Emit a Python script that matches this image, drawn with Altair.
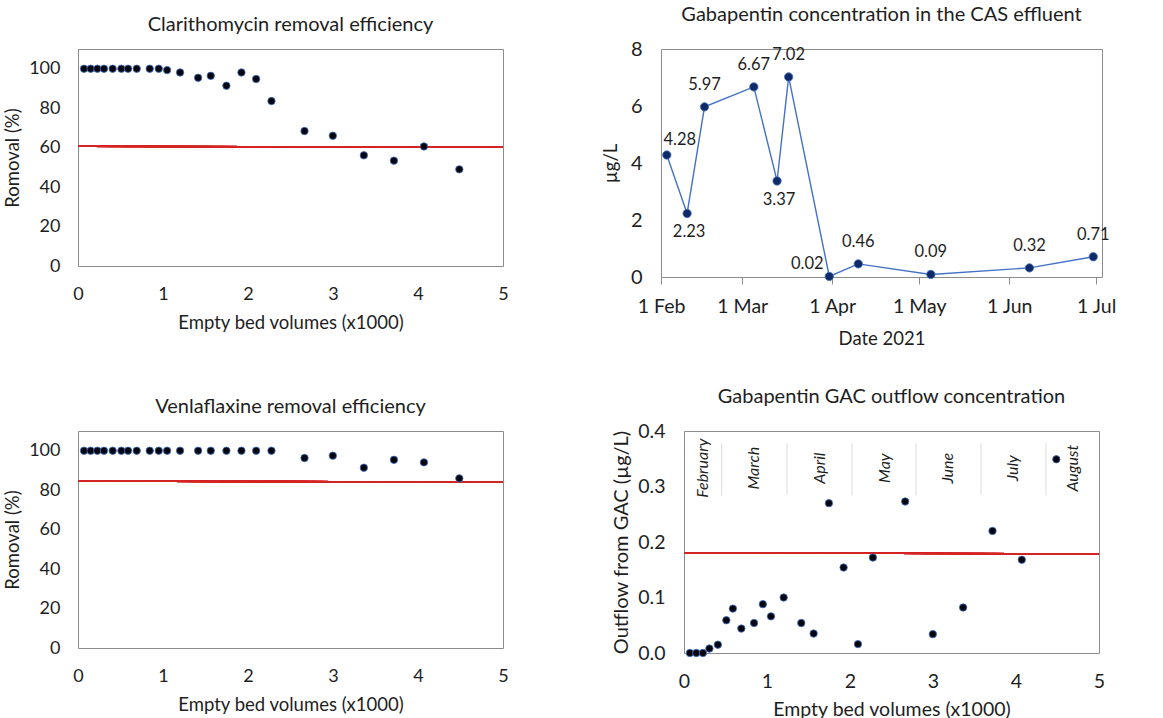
import altair as alt
import pandas as pd

# ---------------- data ----------------
ebv = [0.071, 0.149, 0.228, 0.306, 0.408, 0.510, 0.589, 0.691, 0.844, 0.950, 1.048, 1.201,
       1.413, 1.562, 1.746, 1.923, 2.096, 2.276, 2.665, 2.998, 3.363, 3.717, 4.070, 4.486]
clarithromycin = [100, 100, 100, 100, 100, 100, 100, 100, 100, 100, 99.3, 98.1,
                  95.4, 96.4, 91.4, 98.1, 94.8, 83.6, 68.4, 66.0, 56.1, 53.4, 60.6, 49.0]
venlafaxine = [100, 100, 100, 100, 100, 100, 100, 100, 100, 100, 100, 100,
               100, 100, 100, 100, 100, 100, 96.3, 97.5, 91.4, 95.4, 94.1, 86.0]
gac_outflow = [0.0, 0.0, 0.0, 0.008, 0.015, 0.059, 0.080, 0.044, 0.054, 0.088, 0.066, 0.100,
               0.054, 0.035, 0.270, 0.154, 0.016, 0.172, 0.273, 0.034, 0.082, 0.220, 0.168, 0.349]

cas_dates = ["2021-02-03", "2021-02-10", "2021-02-16", "2021-03-05", "2021-03-13", "2021-03-17",
             "2021-03-31", "2021-04-10", "2021-05-05", "2021-06-08", "2021-06-30"]
cas_values = [4.28, 2.23, 5.97, 6.67, 3.37, 7.02, 0.02, 0.46, 0.09, 0.32, 0.71]
cas_label_side = ["ne", "s", "n", "n", "s", "n", "nw", "n", "n", "n", "n"]

clar_threshold = [60.6, 60.3]
venla_threshold = [84.6, 84.1]
gac_threshold = [0.180, 0.179]

months = ["February", "March", "April", "May", "June", "July", "August"]
month_centres = [0.233, 0.843, 1.639, 2.422, 3.185, 3.968, 4.69]
month_bounds = [0.454, 1.241, 2.024, 2.795, 3.578, 4.361]

# ---------------- style ----------------
FONT = "Lato"
TXT = "#1e1e1e"
RED = "#d42424"
BLUE = "#4472c4"
FRAME = "#8c8c8c"

ebv_df = pd.DataFrame({"ebv": ebv, "clar": clarithromycin, "venla": venlafaxine, "gac": gac_outflow})
cas_df = pd.DataFrame({"date": cas_dates, "v": cas_values, "side": cas_label_side})
cas_df["lab"] = cas_df["v"].map(lambda v: f"{v:.2f}")
month_df = pd.DataFrame({"m": months, "x": month_centres})
bound_df = pd.DataFrame({"x": month_bounds})

W_L, H_L = 425, 217


def ptitle(text):
    return alt.TitleParams(text, fontSize=20, font=FONT, color=TXT, fontWeight="normal",
                           frame="group", offset=14)


def x_ebv(fs=18, tfs=18.5):
    return alt.X("ebv:Q", scale=alt.Scale(domain=[0, 5], nice=False),
                 axis=alt.Axis(values=[0, 1, 2, 3, 4, 5], format="d",
                               title="Empty bed volumes (x1000)", labelFontSize=fs,
                               titleFontSize=tfs, labelPadding=19, titlePadding=10))


def removal_panel(col, thr, title):
    pts = alt.Chart(ebv_df).mark_point(filled=True, size=55, color="#050510",
                                       stroke=BLUE, strokeWidth=0.8, opacity=1).encode(
        x=x_ebv(),
        y=alt.Y(f"{col}:Q", scale=alt.Scale(domain=[0, 110], nice=False),
                axis=alt.Axis(values=[0, 20, 40, 60, 80, 100], title="Romoval (%)",
                              labelPadding=18, titlePadding=6)),
    )
    rule = alt.Chart(ebv_df).mark_rule(color=RED, strokeWidth=1.3).encode(
        x=alt.datum(0), x2=alt.datum(5), y=alt.datum(thr[0]), y2=alt.datum(thr[1]))
    return alt.layer(rule, pts).properties(width=W_L, height=H_L, title=ptitle(title))


tl = removal_panel("clar", clar_threshold, "Clarithomycin removal efficiency")
bl = removal_panel("venla", venla_threshold, "Venlaflaxine removal efficiency")

# ---------- top right: CAS effluent ----------
d0 = alt.DateTime(year=2021, month=2, date=1, utc=True)
d1 = alt.DateTime(year=2021, month=7, date=3, utc=True)
tick_vals = [alt.DateTime(year=2021, month=m, date=1, utc=True) for m in [2, 3, 4, 5, 6, 7]]

xt = alt.X("date:T", scale=alt.Scale(type="utc", domain=[d0, d1], nice=False),
           axis=alt.Axis(values=tick_vals, labelExpr="utcFormat(datum.value, '%-d %b')",
                         labelOverlap=False, title="Date 2021",
                         ticks=True, tickSize=7, tickColor=FRAME, labelPadding=13,
                         labelFontSize=19.5, titleFontSize=18.5, titlePadding=14))
yt = alt.Y("v:Q", scale=alt.Scale(domain=[0, 8], nice=False),
           axis=alt.Axis(values=[0, 2, 4, 6, 8], title="µg/L", labelFontSize=20, titleFontSize=18.5,
                         labelPadding=19, titlePadding=10))

base = alt.Chart(cas_df)
line = base.mark_line(color=BLUE, strokeWidth=1.4).encode(x=xt, y=yt)
cpts = base.mark_point(filled=True, size=70, color="#0f2a66", stroke=BLUE, strokeWidth=0.8,
                       opacity=1).encode(x=xt, y=yt)
offs = {"n": (0, -22), "s": (2, 19), "ne": (13, -15), "nw": (-22, -12)}
labels = [
    base.transform_filter(alt.datum.side == s).mark_text(
        dx=dx, dy=dy, fontSize=16.5, font=FONT, color=TXT, baseline="middle").encode(
        x=xt, y=yt, text="lab:N")
    for s, (dx, dy) in offs.items()
]
tr = alt.layer(line, cpts, *labels).properties(
    width=441, height=228, title=ptitle("Gabapentin concentration in the CAS effluent"))

# ---------- bottom right: GAC outflow ----------
yg = alt.Y("gac:Q", scale=alt.Scale(domain=[0, 0.4], nice=False),
           axis=alt.Axis(values=[0, 0.1, 0.2, 0.3, 0.4], format=".1f", labelFontSize=19.5,
                         titleFontSize=20, title="Outflow from GAC (µg/L)",
                         labelPadding=19, titlePadding=6))
seps = alt.Chart(bound_df).mark_rule(color="#dcdcdc", strokeWidth=1).encode(
    x=alt.X("x:Q"), y=alt.datum(0.284), y2=alt.datum(0.378))
mtext = alt.Chart(month_df).mark_text(angle=270, fontStyle="italic", fontSize=16, font=FONT,
                                      color=TXT, baseline="middle", align="center").encode(
    x=alt.X("x:Q"), y=alt.datum(0.333), text="m:N")
grule = alt.Chart(ebv_df).mark_rule(color=RED, strokeWidth=1.3).encode(
    x=alt.datum(0), x2=alt.datum(5), y=alt.datum(gac_threshold[0]), y2=alt.datum(gac_threshold[1]))
gpts = alt.Chart(ebv_df).mark_point(filled=True, size=55, color="#050510", stroke=BLUE,
                                    strokeWidth=0.8, opacity=1).encode(
    x=x_ebv(fs=19.5, tfs=19.5), y=yg)
br = alt.layer(seps, mtext, grule, gpts).properties(
    width=415, height=222, title=ptitle("Gabapentin GAC outflow concentration"))

top = alt.hconcat(tl, tr, spacing=91)
bottom = alt.hconcat(bl, br, spacing=102)
chart = alt.vconcat(top, bottom, spacing=37).properties(
    padding={"left": 3, "top": 4, "right": 0, "bottom": 0},
    background="white",
).configure_view(stroke=FRAME, strokeWidth=1).configure_axis(
    grid=False, ticks=False, domain=False, labelFlush=False, labelFont=FONT, titleFont=FONT,
    labelColor=TXT, titleColor=TXT, labelFontSize=18, titleFontSize=18.5, titleFontWeight="normal"
)

chart.save("out.html", embed_options={"renderer": "svg", "actions": False})
